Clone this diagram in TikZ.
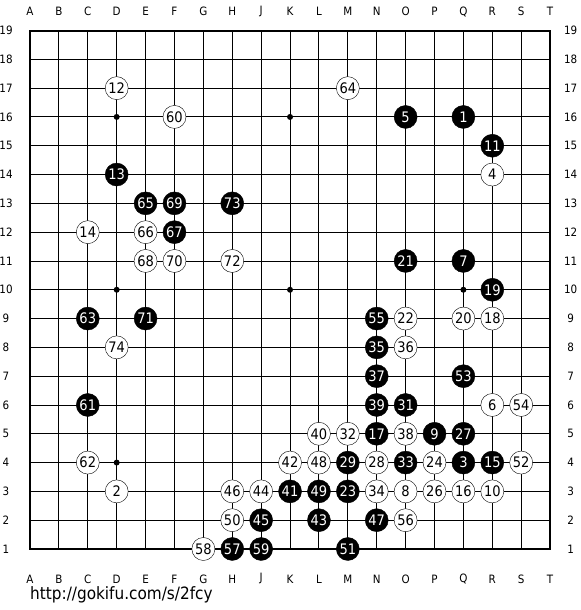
\documentclass[tikz,border=0pt]{standalone}
\usepackage{fontspec}
\setmainfont{DejaVu Sans Condensed}

\begin{document}
\begin{tikzpicture}[x=28.89pt, y=28.8pt,
  bstone/.style={circle, draw=black, fill=black, text=white, minimum size=23pt, inner sep=0pt, font=\fontsize{14.5}{14.5}\selectfont},
  wstone/.style={circle, draw=black, fill=white, text=black, minimum size=23pt, inner sep=0pt, font=\fontsize{14.5}{14.5}\selectfont},
  hoshi/.style={circle, fill=black, minimum size=6pt, inner sep=0pt},
  coord/.style={inner sep=0pt, font=\fontsize{11.5}{11.5}\selectfont}
]
  \useasboundingbox (-0.0384,-1.118) rectangle (20.038,20.06);

  % coordinates
  \foreach \l [count=\i] in {A,B,C,D,E,F,G,H,J,K,L,M,N,O,P,Q,R,S,T} {
    \node[coord] (top\l) at (\i,19.66) {\l};
    \node[coord] (bot\l) at (\i,-0.04) {\l};
  }
  \foreach \r in {1,...,19} {
    \node[coord] (left\r) at (0.17,\r) {\r};
    \node[coord] (right\r) at (19.71,\r) {\r};
  }

  % board
  \foreach \i in {2,...,18} {
    \draw[line width=0.9pt] (\i,1) -- (\i,19);
    \draw[line width=0.9pt] (1,\i) -- (19,\i);
  }
  \draw[line width=2pt] (1,1) rectangle (19,19);
  \foreach \c/\r in {4/4,4/10,4/16,10/4,10/10,10/16,16/4,16/10,16/16}
    \node[hoshi] (h\c-\r) at (\c,\r) {};

  % black stones
  \foreach \n/\c/\r in {1/16/16, 3/16/4, 5/14/16, 7/16/11, 9/15/5, 11/17/15,
      13/4/14, 15/17/4, 17/13/5, 19/17/10, 21/14/11, 23/12/3, 27/16/5,
      29/12/4, 31/14/6, 33/14/4, 35/13/8, 37/13/7, 39/13/6, 41/10/3,
      43/11/2, 45/9/2, 47/13/2, 49/11/3, 51/12/1, 53/16/7, 55/13/9,
      57/8/1, 59/9/1, 61/3/6, 63/3/9, 65/5/13, 67/6/12, 69/6/13,
      71/5/9, 73/8/13}
    \node[bstone] (s\n) at (\c,\r) {\n};

  % white stones
  \foreach \n/\c/\r in {2/4/3, 4/17/14, 6/17/6, 8/14/3, 10/17/3, 12/4/17,
      14/3/12, 16/16/3, 18/17/9, 20/16/9, 22/14/9, 24/15/4, 26/15/3,
      28/13/4, 32/12/5, 34/13/3, 36/14/8, 38/14/5, 40/11/5, 42/10/4,
      44/9/3, 46/8/3, 48/11/4, 50/8/2, 52/18/4, 54/18/6, 56/14/2,
      58/7/1, 60/6/16, 62/3/4, 64/12/17, 66/5/12, 68/5/11, 70/6/11,
      72/8/11, 74/4/8}
    \node[wstone] (s\n) at (\c,\r) {\n};

  \node[anchor=west, inner sep=0pt, font=\fontsize{17}{17}\selectfont] (url) at (1,-0.6) {http://gokifu.com/s/2fcy};
\end{tikzpicture}
\end{document}
